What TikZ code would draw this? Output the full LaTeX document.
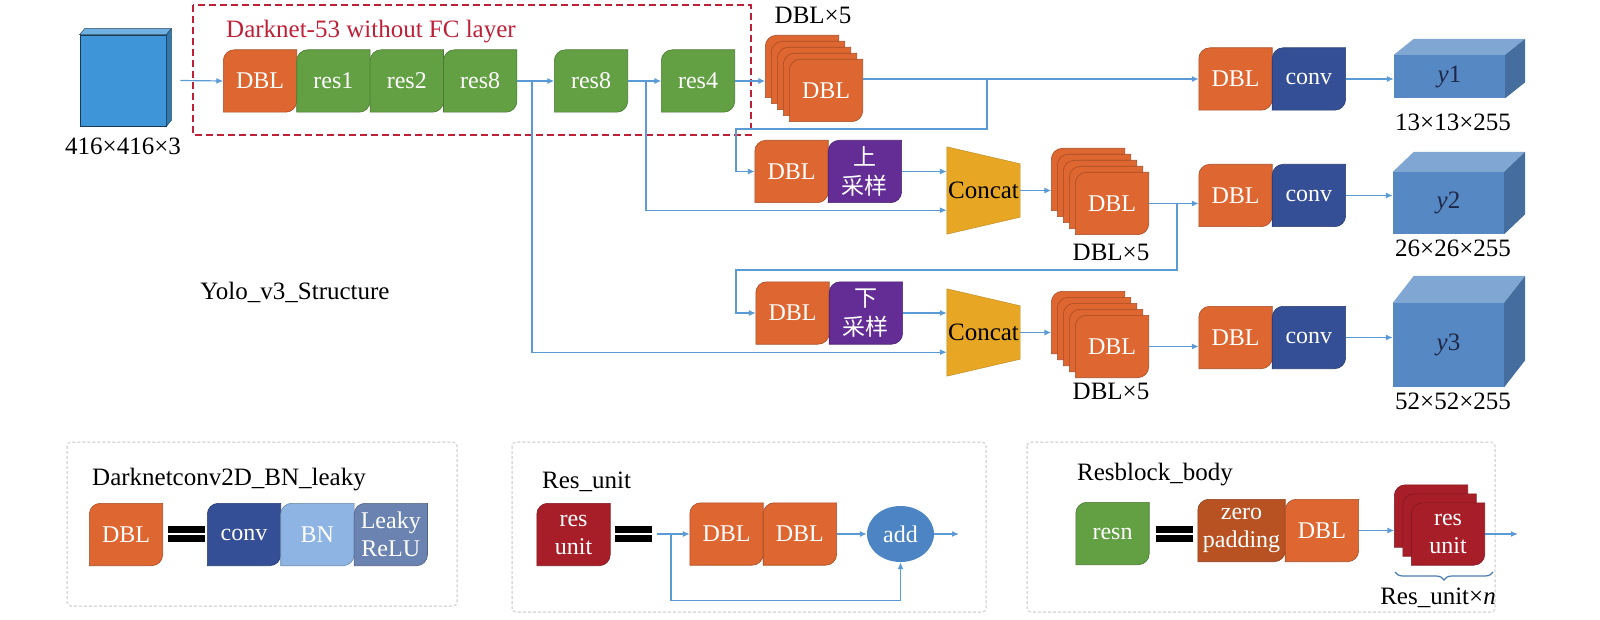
\documentclass[tikz,border=0pt]{standalone}
\usepackage{fontspec}
\setmainfont{Liberation Serif}
\newfontfamily\cjk{Noto Sans CJK SC}
\usepackage{tikz}
\usetikzlibrary{arrows.meta,positioning,shapes.geometric,backgrounds,decorations.pathreplacing}
\definecolor{DOrange}{RGB}{222,102,48}
\definecolor{RGreen}{RGB}{99,160,67}
\definecolor{CBlue}{RGB}{52,79,150}
\definecolor{SPurple}{RGB}{100,45,150}
\definecolor{CYellow}{RGB}{231,167,36}
\definecolor{LBlue}{RGB}{91,155,213}
\definecolor{InBlue}{RGB}{62,150,216}
\definecolor{OutBlue}{RGB}{86,136,196}
\definecolor{DRed}{RGB}{190,32,55}
\definecolor{BNBlue}{RGB}{141,180,226}
\definecolor{LRGray}{RGB}{106,131,176}
\definecolor{RUred}{RGB}{168,30,40}
\definecolor{ZPad}{RGB}{184,82,34}
\definecolor{AddBlue}{RGB}{76,132,196}
\definecolor{Navy}{RGB}{30,40,70}

% box with round top-left and bottom-right corners
\newcommand\rdfill[2]{%
  \filldraw[fill=#2, draw=#2!75!black, line width=0.6pt]
    ([yshift=-11pt]#1.north west) arc[start angle=180, end angle=90, radius=11pt]
    -- (#1.north east) -- ([yshift=11pt]#1.south east)
    arc[start angle=0, end angle=-90, radius=11pt] -- (#1.south west) -- cycle;}
% top and side faces of a cube
\newcommand\cubefaces[5]{%
  \filldraw[fill=#4!75!white, draw=#5] (#1.north west) -- ++(#2,-#3)
    -- ([shift={(#2,-#3)}]#1.north east) -- (#1.north east) -- cycle;
  \filldraw[fill=#4!80!black, draw=#5] (#1.north east) -- ++(#2,-#3)
    -- ([shift={(#2,-#3)}]#1.south east) -- (#1.south east) -- cycle;}

\begin{document}
\begin{tikzpicture}[x=1pt, y=-1pt,
  blk/.style={minimum width=73pt, minimum height=62pt, inner sep=0pt,
    text=white, align=center, font=\fontsize{24}{28}\selectfont},
  zh/.style={font={\cjk\fontsize{23}{29}\selectfont}},
  lbl/.style={inner sep=0pt, font=\fontsize{25}{28}\selectfont},
  cube/.style={fill=OutBlue, inner sep=0pt, text=Navy,
    font=\fontsize{25}{28}\selectfont},
  ln/.style={draw=LBlue, line width=1.2pt},
  arr/.style={ln, -{Latex[length=7pt,width=6pt]}},
  panel/.style={draw=black!14, line width=1.5pt, dash pattern=on 3pt off 2pt,
    rounded corners=4pt},
]
\useasboundingbox (0,0) rectangle (1600,620);

% input
\node[fill=InBlue, draw=InBlue!40!black, line width=0.8pt, inner sep=0pt,
  minimum width=86pt, minimum height=91pt] (img) at (123,80.5) {};
\cubefaces{img}{5}{6}{InBlue}{InBlue!40!black}
\node[lbl, below=11pt of img] (imgl) {416×416×3};

% backbone
\draw[DRed, line width=2.4pt, dash pattern=on 7pt off 4pt] (193,5) rectangle (751,135);
\node[lbl, text=DRed, anchor=west] (dnt) at (226,32) {Darknet-53 without FC layer};
\node[blk] (dbl0) at (260,81) {DBL};
\node[blk, right=0pt of dbl0] (r1) {res1};
\node[blk, right=0pt of r1] (r2) {res2};
\node[blk, right=0pt of r2] (r8a) {res8};
\node[blk] (r8b) at (591,81) {res8};
\node[blk] (r4) at (698,81) {res4};

% DBL x5 stacks
\foreach \i in {0,...,3} \node[blk] (sa\i) at (802+6*\i,66.5+6*\i) {};
\node[blk] (sa4) at (826,90.5) {DBL};
\node[lbl] (sal) at (813,15) {DBL×5};
\foreach \i in {0,...,3} \node[blk] (sb\i) at (1088+6*\i,179.5+6*\i) {};
\node[blk] (sb4) at (1112,203.5) {DBL};
\node[lbl] (sbl) at (1111,252) {DBL×5};
\foreach \i in {0,...,3} \node[blk] (sc\i) at (1088+6*\i,322.5+6*\i) {};
\node[blk] (sc4) at (1112,346.5) {DBL};
\node[lbl] (scl) at (1111,391) {DBL×5};

% branch rows
\node[blk] (dbl2) at (791.5,171.5) {DBL};
\node[blk, zh, right=0pt of dbl2] (up2) {上\\采样};
\node[blk] (dbl3) at (792.5,313) {DBL};
\node[blk, zh, right=0pt of dbl3] (dn3) {下\\采样};
\node[lbl, minimum width=73pt, minimum height=87pt] (cc2) at (983.5,190.5) {Concat};
\node[lbl, minimum width=73pt, minimum height=87pt] (cc3) at (983.5,332.5) {Concat};

% heads
\node[blk] (dbl1) at (1235.5,79) {DBL};
\node[blk, right=0pt of dbl1] (cv1) {conv};
\node[blk] (db2) at (1235.5,195.5) {DBL};
\node[blk, right=0pt of db2] (cv2) {conv};
\node[blk] (db3) at (1235.5,337.5) {DBL};
\node[blk, right=0pt of db3] (cv3) {conv};

\node[cube, minimum width=111pt, minimum height=43pt] (y1) at (1449.5,76.5) {\textit{y}1};
\cubefaces{y1}{20}{16}{OutBlue}{none}
\node[lbl] (y1l) at (1453,122) {13×13×255};
\node[cube, minimum width=111pt, minimum height=62pt] (y2) at (1448.5,203) {\textit{y}2};
\cubefaces{y2}{21}{20}{OutBlue}{none}
\node[lbl] (y2l) at (1453,248) {26×26×255};
\node[cube, minimum width=111pt, minimum height=84pt] (y3) at (1448.5,345) {\textit{y}3};
\cubefaces{y3}{21}{27}{OutBlue}{none}
\node[lbl] (y3l) at (1453,401) {52×52×255};

\node[lbl] (ttl) at (295,292) {Yolo\_v3\_Structure};

% connectors
\coordinate (b1) at (532,81);
\coordinate (b2) at (646,81);
\coordinate (b3) at (987,79);
\coordinate (t1) at (736,129);
\coordinate (b4) at (1177,203.5);
\coordinate (t2) at (736,270);
\draw[arr] ([xshift=14pt]img.east) -- (dbl0.west);
\draw[arr] (r8a) -- (r8b);
\draw[arr] (r8b) -- (r4);
\draw[arr] (r4.east) -- (r4.east -| sa0.west);
\draw[arr] (b1) |- ([yshift=24pt]cc3.south west);
\draw[arr] (b2) |- ([yshift=24pt]cc2.south west);
\draw[arr] (sa4.east |- dbl1.west) -- (dbl1.west);
\draw[arr] (b3) |- (t1) |- (dbl2.west);
\draw[arr] (up2.east) -- (up2.east -| cc2.west);
\draw[arr] (cc2.east) -- (cc2.east -| sb0.west);
\draw[arr] (sb4.east) -- (sb4.east -| db2.west);
\draw[arr] (b4) |- (t2) |- (dbl3.west);
\draw[arr] (dn3.east) -- (dn3.east -| cc3.west);
\draw[arr] (cc3.east) -- (cc3.east -| sc0.west);
\draw[arr] (sc4.east) -- (sc4.east -| db3.west);
\draw[arr] (cv1.east) -- (cv1.east -| y1.west);
\draw[arr] (cv2.east) -- (cv2.east -| y2.west);
\draw[arr] (cv3.east) -- (cv3.east -| y3.west);

% legend panels
\draw[panel] (67,442) rectangle (457,606);
\draw[panel] (512,442) rectangle (986,612);
\draw[panel] (1027,442) rectangle (1495,612);
\foreach \x in {168,615,1156} {
  \fill (\x,526) rectangle ++(37,7);
  \fill (\x,535) rectangle ++(37,7);
}

\node[lbl, anchor=west] (p1t) at (92,480) {Darknetconv2D\_BN\_leaky};
\node[blk] (pd) at (126,534.5) {DBL};
\node[blk] (pconv) at (244,534.5) {conv};
\node[blk, right=0pt of pconv] (pbn) {BN};
\node[blk, right=0pt of pbn] (plr) {Leaky\\ReLU};

\node[lbl, anchor=west] (p2t) at (542,482) {Res\_unit};
\node[blk] (pru) at (573.5,534.5) {res\\unit};
\coordinate (pin) at (657,534);
\coordinate (pbr) at (671,534);
\node[blk] (pd1) at (726.5,534) {DBL};
\node[blk, right=0pt of pd1] (pd2) {DBL};
\node[ellipse, fill=AddBlue, minimum width=67pt, minimum height=56pt, inner sep=0pt,
  text=white, font=\fontsize{24}{28}\selectfont] (padd) at (900.5,534) {add};
\coordinate (pout) at (959,534);
\draw[arr] (pin) -- (pd1.west);
\draw[arr] (pbr) |- ([yshift=-38pt]padd.south) -- (padd.south);
\draw[arr] (pd2) -- (padd);
\draw[arr] (padd) -- (pout);

\node[lbl, anchor=west] (p3t) at (1077,475) {Resblock\_body};
\node[blk] (prn) at (1112.5,533.5) {resn};
\node[blk, minimum width=87pt] (pzp) at (1241.5,530.5) {zero\\padding};
\node[blk, right=0pt of pzp] (pdb) {DBL};
\foreach \i in {0,1} \node[blk] (su\i) at (1431+8.5*\i,516+9*\i) {};
\node[blk] (su2) at (1448,534) {res\\unit};
\coordinate (pend) at (1518,534);
\draw[arr] (pdb.east) -- (pdb.east -| su0.west);
\draw[arr] (su2) -- (pend);
\draw[LBlue!80!black, line width=1.2pt, decorate, decoration={brace, mirror, amplitude=8pt}]
  (1395,572) -- (1493,572);
\node[lbl] (rul) at (1438,598) {Res\_unit×\textit{n}};

% fills behind the texts
\begin{pgfonlayer}{background}
  \foreach \n/\c in {dbl0/DOrange, r1/RGreen, r2/RGreen, r8a/RGreen, r8b/RGreen,
      r4/RGreen, dbl1/DOrange, cv1/CBlue, dbl2/DOrange, up2/SPurple, db2/DOrange,
      cv2/CBlue, dbl3/DOrange, dn3/SPurple, db3/DOrange, cv3/CBlue, pd/DOrange,
      pconv/CBlue, pbn/BNBlue, plr/LRGray, pru/RUred, pd1/DOrange, pd2/DOrange,
      prn/RGreen, pzp/ZPad, pdb/DOrange}
    \rdfill{\n}{\c};
  \foreach \s in {sa,sb,sc}
    \foreach \i in {0,...,4} \rdfill{\s\i}{DOrange};
  \foreach \i in {0,1,2} \rdfill{su\i}{RUred};
  \foreach \n in {cc2,cc3}
    \filldraw[fill=CYellow, draw=CYellow!80!black] (\n.north west)
      -- ([yshift=-17pt]\n.north east) -- ([yshift=17pt]\n.south east)
      -- (\n.south west) -- cycle;
\end{pgfonlayer}
\end{tikzpicture}
\end{document}
